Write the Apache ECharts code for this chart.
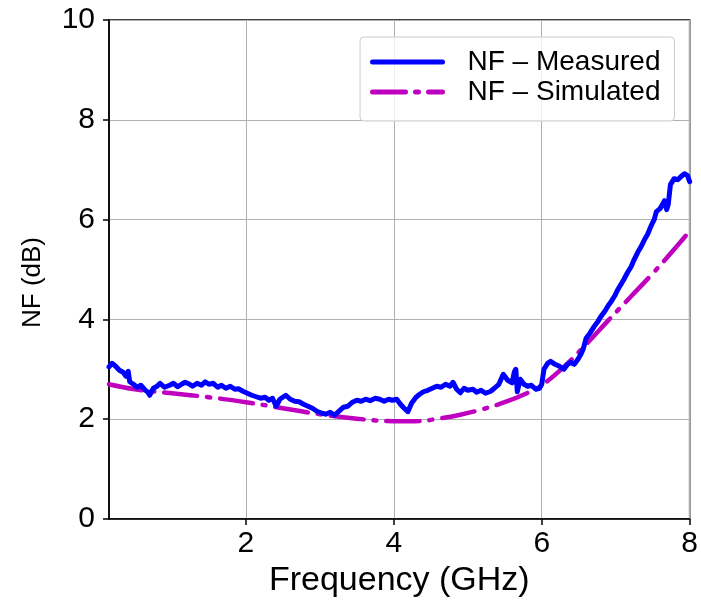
<!DOCTYPE html>
<html>
<head>
<meta charset="utf-8">
<script src="https://cdn.jsdelivr.net/npm/echarts@6/dist/echarts.min.js"></script>
<style>html,body{margin:0;padding:0;background:#fff;}#c{width:701px;height:609px;}</style>
</head>
<body>
<div id="c"></div>
<script>
const xTicks = [2, 4, 6, 8];
const yTicks = [0, 2, 4, 6, 8, 10];
const seriesNames = ['NF \u2013 Measured', 'NF \u2013 Simulated'];

const freqMeasured = [0.15,0.19,0.24,0.29,0.34,0.38,0.41,0.43,0.48,0.53,0.58,0.64,0.67,0.70,0.75,0.80,0.84,0.90,0.97,1.02,1.08,1.13,1.18,1.24,1.28,1.34,1.40,1.45,1.50,1.56,1.62,1.67,1.73,1.79,1.85,1.90,1.96,2.02,2.08,2.14,2.20,2.26,2.31,2.36,2.41,2.46,2.50,2.54,2.60,2.66,2.72,2.78,2.84,2.90,2.96,3.03,3.08,3.14,3.20,3.26,3.32,3.38,3.44,3.50,3.56,3.62,3.68,3.75,3.81,3.87,3.93,3.98,4.04,4.09,4.14,4.19,4.24,4.30,4.35,4.40,4.46,4.52,4.58,4.64,4.70,4.76,4.80,4.85,4.90,4.95,5.00,5.07,5.12,5.18,5.24,5.31,5.36,5.42,5.48,5.54,5.60,5.63,5.65,5.67,5.71,5.76,5.81,5.86,5.92,5.97,6.00,6.03,6.08,6.12,6.18,6.24,6.30,6.35,6.39,6.44,6.49,6.53,6.56,6.60,6.65,6.71,6.76,6.80,6.86,6.90,6.94,6.99,7.03,7.07,7.11,7.16,7.21,7.25,7.30,7.34,7.39,7.43,7.48,7.52,7.55,7.60,7.64,7.66,7.69,7.71,7.74,7.79,7.84,7.88,7.93,7.97,8.00];
const nfMeasured = [3.05,3.12,3.06,2.98,2.94,2.86,2.96,2.75,2.70,2.64,2.68,2.58,2.55,2.48,2.62,2.66,2.72,2.64,2.68,2.72,2.65,2.70,2.74,2.70,2.66,2.72,2.68,2.75,2.70,2.72,2.64,2.68,2.62,2.66,2.60,2.61,2.56,2.52,2.48,2.45,2.42,2.44,2.38,2.42,2.26,2.40,2.44,2.48,2.40,2.36,2.35,2.30,2.26,2.22,2.16,2.12,2.10,2.14,2.08,2.16,2.24,2.26,2.34,2.38,2.36,2.40,2.37,2.42,2.40,2.36,2.40,2.38,2.40,2.30,2.22,2.15,2.32,2.44,2.50,2.55,2.58,2.62,2.66,2.64,2.70,2.66,2.74,2.60,2.53,2.62,2.58,2.60,2.54,2.58,2.52,2.56,2.62,2.70,2.90,2.78,2.73,2.95,3.00,2.55,2.80,2.70,2.66,2.68,2.60,2.62,2.70,3.00,3.12,3.16,3.10,3.06,3.00,3.10,3.14,3.10,3.20,3.30,3.40,3.62,3.72,3.86,3.96,4.06,4.18,4.28,4.36,4.48,4.60,4.70,4.80,4.94,5.06,5.20,5.35,5.45,5.60,5.70,5.88,6.00,6.16,6.22,6.32,6.38,6.20,6.30,6.70,6.82,6.80,6.86,6.92,6.88,6.76];

const freqSimulated = [0.15,0.5,1.0,1.5,2.0,2.5,3.0,3.5,4.0,4.3,4.6,4.9,5.2,5.5,5.8,6.0,6.3,6.6,6.9,7.2,7.5,7.8,8.0];
const nfSimulated = [2.70,2.60,2.52,2.44,2.34,2.22,2.10,2.01,1.96,1.96,2.01,2.09,2.20,2.34,2.52,2.68,3.05,3.50,3.98,4.45,4.92,5.42,5.77];

const zip = (a, b) => a.map((v, i) => [v, b[i]]);
const font = 'Liberation Sans, Arial, sans-serif';

const chart = echarts.init(document.getElementById('c'), null, {renderer: 'canvas'});
chart.setOption({
  animation: false,
  backgroundColor: '#ffffff',
  grid: {left: 109, right: 10, top: 20, bottom: 90, show: true, borderColor: '#000', borderWidth: 1.5, backgroundColor: 'transparent'},
  legend: {
    orient: 'vertical', left: 360, top: 37,
    padding: [10, 14, 14, 10],
    itemWidth: 70, itemHeight: 10, itemGap: 0,
    backgroundColor: 'rgba(255,255,255,0.8)', borderColor: '#cccccc', borderWidth: 1, borderRadius: 4,
    lineStyle: {width: 5},
    itemStyle: {opacity: 0},
    textStyle: {fontFamily: font, fontSize: 28, color: '#000', lineHeight: 30, padding: [0, 0, 0, 20]},
    data: seriesNames
  },
  xAxis: {
    type: 'value', min: 0.15, max: 8,
    name: 'Frequency (GHz)', nameLocation: 'middle', nameGap: 42,
    nameTextStyle: {fontFamily: font, fontSize: 34, color: '#000'},
    axisLine: {show: true, lineStyle: {color: '#000', width: 1.5}},
    axisTick: {show: true, length: 6, customValues: xTicks, lineStyle: {color: '#000', width: 1.5}},
    axisLabel: {customValues: xTicks, margin: 10, fontFamily: font, fontSize: 30, color: '#000', formatter: v => String(v)},
    splitLine: {show: true, lineStyle: {color: '#b0b0b0', width: 1}}
  },
  yAxis: {
    type: 'value', min: 0, max: 10, interval: 2,
    name: 'NF (dB)', nameLocation: 'middle', nameGap: 63, nameRotate: 90,
    nameTextStyle: {fontFamily: font, fontSize: 26, color: '#000', padding: [0, 26, 0, 0]},
    axisLine: {show: true, lineStyle: {color: '#000', width: 1.5}},
    axisTick: {show: true, length: 6, lineStyle: {color: '#000', width: 1.5}},
    axisLabel: {margin: 14, fontFamily: font, fontSize: 30, color: '#000', customValues: yTicks},
    splitLine: {show: true, lineStyle: {color: '#b0b0b0', width: 1}}
  },
  series: [
    {
      name: seriesNames[0], type: 'line', data: zip(freqMeasured, nfMeasured),
      symbol: 'none', showSymbol: false, clip: true,
      lineStyle: {color: '#0000ff', width: 5, join: 'round', cap: 'round'},
      itemStyle: {color: '#0000ff'}, z: 3
    },
    {
      name: seriesNames[1], type: 'line', data: zip(freqSimulated, nfSimulated),
      symbol: 'none', showSymbol: false, smooth: 0.4, clip: true,
      lineStyle: {color: '#bf00bf', width: 4.5, type: [33, 10, 3, 10], cap: 'round'},
      itemStyle: {color: '#bf00bf'}, z: 2
    }
  ]
});
</script>
</body>
</html>
